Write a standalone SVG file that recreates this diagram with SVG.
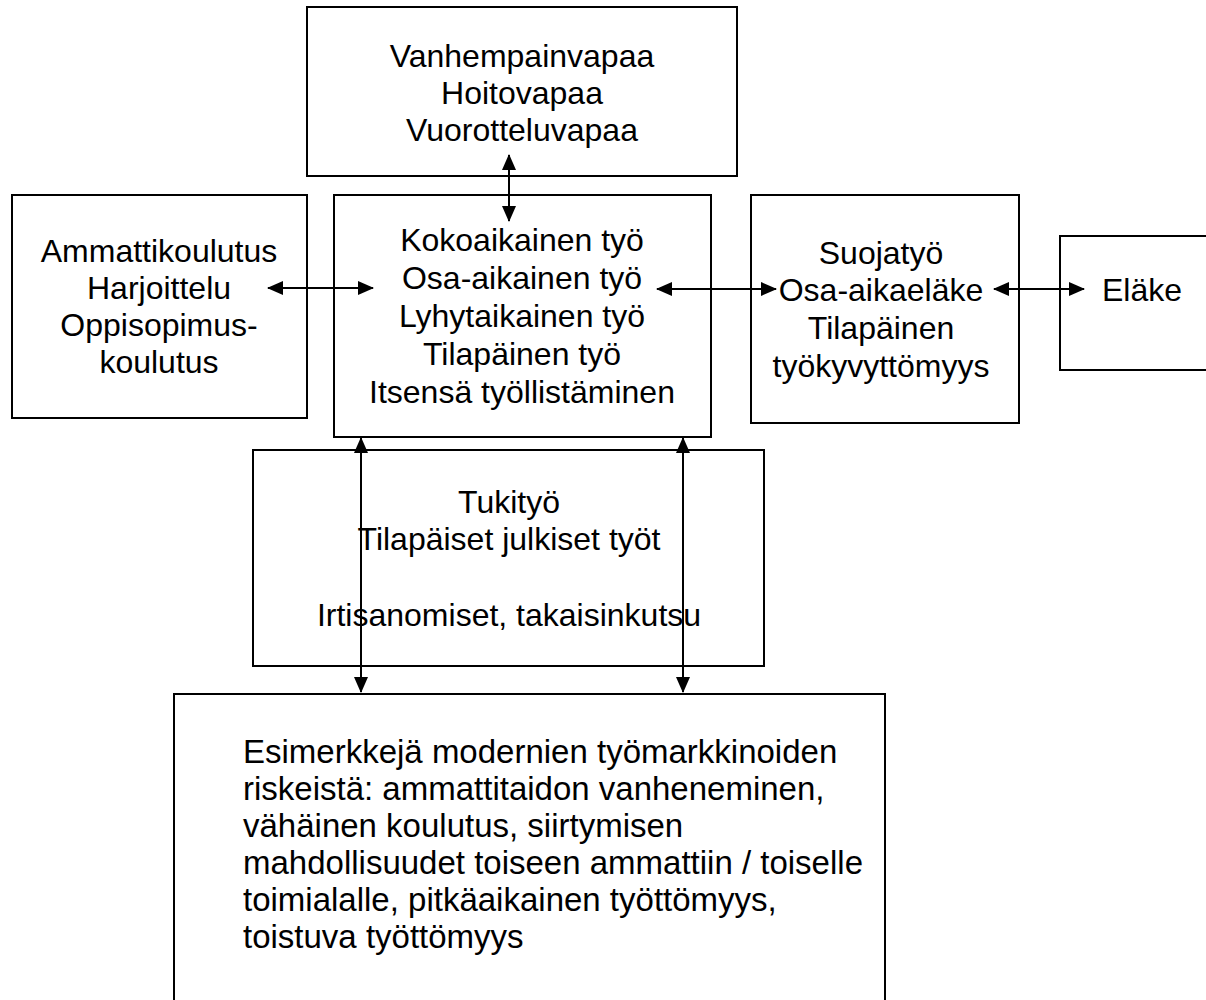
<svg xmlns="http://www.w3.org/2000/svg" width="1206" height="1000" viewBox="0 0 1206 1000">
<style>
.box{fill:#fff;stroke:#000;stroke-width:2}
.t{font-family:"Liberation Sans",Arial,sans-serif;font-size:32px;fill:#000}
.b{font-size:33px}
.c{text-anchor:middle}
.con{stroke:#000;stroke-width:2;fill:none;marker-start:url(#ah);marker-end:url(#ah)}
</style>
<defs>
<marker id="ah" viewBox="0 0 16 14" refX="15" refY="7" markerWidth="16" markerHeight="14" markerUnits="userSpaceOnUse" orient="auto-start-reverse">
<path d="M0,0 L16,7 L0,14 Z" fill="#000"/>
</marker>
</defs>
<rect width="1206" height="1000" fill="#fff"/>
<g id="node-vapaat">
<rect class="box" x="307" y="7" width="430" height="169"/>
<text class="t c" x="522" y="67">Vanhempainvapaa</text>
<text class="t c" x="522" y="104">Hoitovapaa</text>
<text class="t c" x="522" y="141">Vuorotteluvapaa</text>
</g>
<g id="node-koulutus">
<rect class="box" x="12" y="195" width="295" height="223"/>
<text class="t c" x="159" y="262">Ammattikoulutus</text>
<text class="t c" x="159" y="299">Harjoittelu</text>
<text class="t c" x="159" y="336">Oppisopimus-</text>
<text class="t c" x="159" y="373">koulutus</text>
</g>
<g id="node-tyo">
<rect class="box" x="334" y="195" width="377" height="242"/>
<text class="t c" x="522" y="251">Kokoaikainen työ</text>
<text class="t c" x="522" y="289">Osa-aikainen työ</text>
<text class="t c" x="522" y="327">Lyhytaikainen työ</text>
<text class="t c" x="522" y="365">Tilapäinen työ</text>
<text class="t c" x="522" y="403">Itsensä työllistäminen</text>
</g>
<g id="node-suojatyo">
<rect class="box" x="751" y="195" width="268" height="228"/>
<text class="t c" x="881" y="264">Suojatyö</text>
<text class="t c" x="881" y="301">Osa-aikaeläke</text>
<text class="t c" x="881" y="339">Tilapäinen</text>
<text class="t c" x="881" y="377">työkyvyttömyys</text>
</g>
<g id="node-elake">
<rect class="box" x="1060" y="236" width="160" height="134"/>
<text class="t c" x="1142" y="301">Eläke</text>
</g>
<g id="node-tukityo">
<rect class="box" x="253" y="450" width="511" height="216"/>
<text class="t c" x="509" y="513">Tukityö</text>
<text class="t c" x="509" y="550">Tilapäiset julkiset työt</text>
<text class="t c" x="509" y="626">Irtisanomiset, takaisinkutsu</text>
</g>
<g id="node-riskit">
<rect class="box" x="174" y="694" width="711" height="320"/>
<text class="t b" x="243" y="763">Esimerkkejä modernien työmarkkinoiden</text>
<text class="t b" x="243" y="800">riskeistä: ammattitaidon vanheneminen,</text>
<text class="t b" x="243" y="837">vähäinen koulutus, siirtymisen</text>
<text class="t b" x="243" y="874">mahdollisuudet toiseen ammattiin / toiselle</text>
<text class="t b" x="243" y="911">toimialalle, pitkäaikainen työttömyys,</text>
<text class="t b" x="243" y="948">toistuva työttömyys</text>
</g>
<g id="connectors">
<line class="con" x1="509" y1="155" x2="509" y2="221"/>
<line class="con" x1="268" y1="288" x2="373" y2="288"/>
<line class="con" x1="657" y1="289" x2="776" y2="289"/>
<line class="con" x1="994" y1="289" x2="1084" y2="289"/>
<line class="con" x1="361" y1="438" x2="361" y2="692"/>
<line class="con" x1="683" y1="438" x2="683" y2="692"/>
</g>
</svg>
